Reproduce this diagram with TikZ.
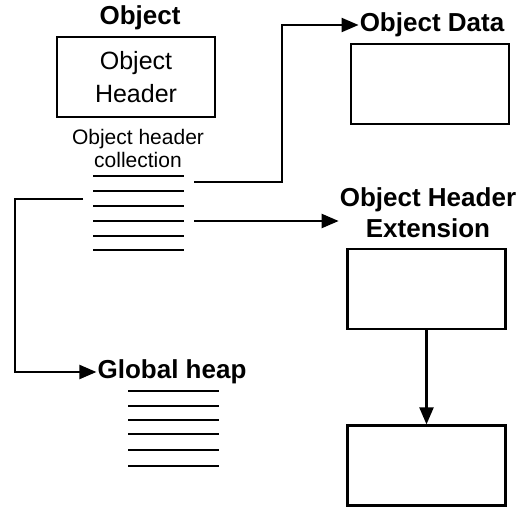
\documentclass[tikz,border=0pt]{standalone}
\usepackage{fontspec}
\setmainfont{Liberation Sans}
\usetikzlibrary{arrows.meta}

\tikzset{
	title/.style={font=\fontsize{26}{31}\selectfont\bfseries, align=center, inner sep=1pt},
	plain/.style={font=\fontsize{25}{33}\selectfont, align=center},
	note/.style={font=\fontsize{21}{23}\selectfont, align=center},
	blockbox/.style={draw, line width=2.2pt, minimum width=158pt, minimum height=80pt, inner sep=0pt},
	link/.style={line width=2.2pt, -{Triangle[length=17pt,width=14pt]}},
	rule/.style={line width=2pt}
}

\begin{document}
\begin{tikzpicture}[x=1pt, y=-1pt]
\useasboundingbox (0,0) rectangle (527,506);

% object header and its collection
\node[title] (obj) at (140,18) {Object};
\node[blockbox, plain] (hdr) at (136,77) {Object\\Header};
\node[note] (coll) at (138,148) {Object header\\collection};
\foreach \y in {176,191,206,221,236,250}
\draw[rule] (93,\y) -- (184,\y);

% object data
\node[title] (dat) at (432,25) {Object Data};
\node[blockbox] (datbox) at (430,84) {};

% header extension chain
\node[title] (ext) at (428,213) {Object Header\\Extension};
\node[blockbox] (extbox) at (426.5,289) {};
\node[blockbox] (extnext) at (426.5,465.5) {};

% global heap
\node[title] (heap) at (172,372) {Global heap};
\foreach \y in {391,406,420,434,450,466}
\draw[rule] (128,\y) -- (219,\y);

% connectors
\coordinate (c1) at (194,182);
\coordinate (t1) at (282,182);
\coordinate (c2) at (194,221);
\coordinate (c3) at (83,199);
\coordinate (t3) at (15,199);
\draw[link] (c1) -- (t1) |- (dat.west);
\draw[link] (c2) -- (c2 -| ext.west);
\draw[link] (c3) -- (t3) |- (heap.west);
\draw[link] (extbox.south) -- (extnext.north);

\end{tikzpicture}
\end{document}
